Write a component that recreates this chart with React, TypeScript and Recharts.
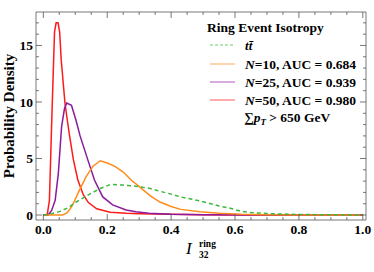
import React from 'react';
import { LineChart, Line, XAxis, YAxis } from 'recharts';

// t tbar background
const ttbarX = [0, 0.03, 0.05, 0.078, 0.1, 0.13, 0.155, 0.178, 0.21, 0.25, 0.29, 0.334, 0.365, 0.4, 0.43, 0.49, 0.55, 0.585, 0.616, 0.65, 0.71, 0.8, 0.9, 1.0];
const ttbarY = [0, 0.15, 0.3, 0.65, 1.1, 1.6, 2.0, 2.35, 2.7, 2.65, 2.55, 2.35, 2.1, 1.85, 1.6, 1.25, 0.8, 0.6, 0.35, 0.22, 0.12, 0.05, 0.02, 0];
// N = 10
const n10X = [0, 0.06, 0.075, 0.09, 0.113, 0.134, 0.155, 0.178, 0.2, 0.224, 0.25, 0.275, 0.305, 0.335, 0.365, 0.4, 0.43, 0.49, 0.55, 0.62, 0.7, 0.8, 1.0];
const n10Y = [0, 0, 0.2, 0.8, 2.2, 3.4, 4.3, 4.8, 4.6, 4.3, 3.8, 3.1, 2.4, 1.7, 1.15, 0.75, 0.5, 0.28, 0.15, 0.06, 0.02, 0.01, 0];
// N = 25
const n25X = [0, 0.015, 0.026, 0.037, 0.047, 0.057, 0.066, 0.073, 0.088, 0.102, 0.115, 0.139, 0.16, 0.186, 0.217, 0.259, 0.29, 0.33, 0.4, 0.5, 0.7, 1.0];
const n25Y = [0, 0, 0.4, 1.3, 3.7, 7.8, 9.4, 9.9, 9.7, 8.4, 7.0, 4.9, 3.1, 1.6, 0.9, 0.44, 0.3, 0.15, 0.06, 0.02, 0, 0];
// N = 50
const n50X = [0, 0.012, 0.019, 0.027, 0.035, 0.04, 0.046, 0.051, 0.056, 0.068, 0.081, 0.094, 0.108, 0.125, 0.141, 0.167, 0.209, 0.26, 0.3, 0.4, 0.5, 0.7, 1.0];
const n50Y = [0, 0, 1.3, 9.0, 16.2, 17.0, 17.0, 16.2, 13.7, 9.8, 7.2, 4.9, 3.1, 1.8, 1.1, 0.55, 0.25, 0.15, 0.12, 0.06, 0.03, 0.01, 0];

const xTicks = Array.from({ length: 21 }, (_, i) => +(i * 0.05).toFixed(2));
const yTicks = Array.from({ length: 18 }, (_, i) => i);
const xMajor = [0, 0.2, 0.4, 0.6, 0.8, 1.0];
const yMajor = [0, 5, 10, 15];

const legendTitle = 'Ring Event Isotropy';
const aucLabels = ['0.684', '0.939', '0.980'];
const nLabels = ['10', '25', '50'];

const toPts = (xs: number[], ys: number[]) => xs.map((x, i) => ({ x, y: ys[i] }));

const C_TT = '#3cb83c';
const C_10 = '#ff8c1a';
const C_25 = '#8b1a9e';
const C_50 = '#ff1a1a';
const FRAME = '#555';
const FONT = '"Liberation Serif", "Times New Roman", serif';

const isMaj = (v: number, list: number[]) => list.some((m) => Math.abs(m - v) < 1e-6);

const BottomTick = (p: any) => {
  const v = p.payload.value;
  const maj = isMaj(v, xMajor);
  return (
    <g>
      <line x1={p.x} x2={p.x} y1={p.y} y2={p.y - (maj ? 6 : 3)} stroke={FRAME} strokeWidth={0.8} />
      {maj && (
        <text x={p.x} y={p.y + 14} textAnchor="middle" fontFamily={FONT} fontWeight="bold" fontSize={13.5} fill="#000">
          {v.toFixed(1)}
        </text>
      )}
    </g>
  );
};
const TopTick = (p: any) => {
  const maj = isMaj(p.payload.value, xMajor);
  return <line x1={p.x} x2={p.x} y1={p.y} y2={p.y + (maj ? 6 : 3)} stroke={FRAME} strokeWidth={0.8} />;
};
const LeftTick = (p: any) => {
  const v = p.payload.value;
  const maj = isMaj(v, yMajor);
  return (
    <g>
      <line x1={p.x} x2={p.x + (maj ? 6 : 3)} y1={p.y} y2={p.y} stroke={FRAME} strokeWidth={0.8} />
      {maj && (
        <text x={p.x - 3} y={p.y} dy="0.35em" textAnchor="end" fontFamily={FONT} fontWeight="bold" fontSize={13.5} fill="#000">
          {v}
        </text>
      )}
    </g>
  );
};
const RightTick = (p: any) => {
  const maj = isMaj(p.payload.value, yMajor);
  return <line x1={p.x} x2={p.x - (maj ? 6 : 3)} y1={p.y} y2={p.y} stroke={FRAME} strokeWidth={0.8} />;
};

const XDOM: [number, number] = [-0.023, 1.01];
const YDOM: [number, number] = [-0.44, 17.96];

export default function App() {
  const rows = [
    { color: C_10, n: nLabels[0], auc: aucLabels[0], y: 64 },
    { color: C_25, n: nLabels[1], auc: aucLabels[1], y: 82 },
    { color: C_50, n: nLabels[2], auc: aucLabels[2], y: 100 },
  ];
  return (
    <div style={{ position: 'absolute', left: 0, top: 0, width: 374, height: 272, background: '#fff' }}>
      <LineChart width={374} height={272} margin={{ top: 11, right: 7, bottom: 51, left: 35 }}>
        <XAxis
          xAxisId="b"
          type="number"
          dataKey="x"
          domain={XDOM}
          allowDataOverflow
          ticks={xTicks}
          interval={0}
          height={1}
          tickSize={0}
          tickMargin={0}
          tick={<BottomTick />}
          axisLine={{ stroke: FRAME, strokeWidth: 0.8 }}
          tickLine={false}
        />
        <XAxis
          xAxisId="t"
          orientation="top"
          type="number"
          dataKey="x"
          domain={XDOM}
          allowDataOverflow
          ticks={xTicks}
          interval={0}
          height={1}
          tickSize={0}
          tickMargin={0}
          tick={<TopTick />}
          axisLine={{ stroke: FRAME, strokeWidth: 0.8 }}
          tickLine={false}
        />
        <YAxis
          yAxisId="l"
          type="number"
          domain={YDOM}
          allowDataOverflow
          ticks={yTicks}
          interval={0}
          width={1}
          tickSize={0}
          tickMargin={0}
          tick={<LeftTick />}
          axisLine={{ stroke: FRAME, strokeWidth: 0.8 }}
          tickLine={false}
        />
        <YAxis
          yAxisId="r"
          orientation="right"
          type="number"
          domain={YDOM}
          allowDataOverflow
          ticks={yTicks}
          interval={0}
          width={1}
          tickSize={0}
          tickMargin={0}
          tick={<RightTick />}
          axisLine={{ stroke: FRAME, strokeWidth: 0.8 }}
          tickLine={false}
        />
        <Line xAxisId="b" yAxisId="l" data={toPts(n50X, n50Y)} dataKey="y" type="linear" dot={false} stroke={C_50} strokeWidth={1.5} isAnimationActive={false} />
        <Line xAxisId="b" yAxisId="l" data={toPts(n25X, n25Y)} dataKey="y" type="linear" dot={false} stroke={C_25} strokeWidth={1.5} isAnimationActive={false} />
        <Line xAxisId="b" yAxisId="l" data={toPts(n10X, n10Y)} dataKey="y" type="linear" dot={false} stroke={C_10} strokeWidth={1.5} isAnimationActive={false} />
        <Line xAxisId="b" yAxisId="l" data={toPts(ttbarX, ttbarY)} dataKey="y" type="linear" dot={false} stroke={C_TT} strokeWidth={1.5} strokeDasharray="4 3" isAnimationActive={false} />
      </LineChart>
      <svg width={374} height={272} style={{ position: 'absolute', left: 0, top: 0, pointerEvents: 'none' }}>
        <text x={9} y={116} transform="rotate(-90 9 116)" textAnchor="middle" dominantBaseline="central" fontFamily={FONT} fontWeight="bold" fontSize={15} fill="#000">
          Probability Density
        </text>
        <text x={186} y={253.5} fontFamily={FONT} fontStyle="italic" fontSize={17} fill="#000">I</text>
        <text x={199} y={246.5} fontFamily={FONT} fontWeight="bold" fontSize={9.5} fill="#000">ring</text>
        <text x={199} y={257.5} fontFamily={FONT} fontWeight="bold" fontSize={9.5} fill="#000">32</text>

        <text x={207} y={32} fontFamily={FONT} fontWeight="bold" fontSize={13.5} fill="#000">{legendTitle}</text>
        <line x1={210} x2={235} y1={45} y2={45} stroke={C_TT} strokeWidth={1.2} strokeDasharray="3 2" opacity={0.75} />
        <text x={245} y={49.5} fontFamily={FONT} fontWeight="bold" fontStyle="italic" fontSize={13} fill="#000">t{'t\u0304'}</text>
        {rows.map((r) => (
          <g key={r.n}>
            <line x1={210} x2={235} y1={r.y} y2={r.y} stroke={r.color} strokeWidth={1.2} opacity={0.6} />
            <text x={245} y={r.y + 4.5} fontFamily={FONT} fontWeight="bold" fontSize={13.5} fill="#000">
              <tspan fontStyle="italic">N</tspan>={r.n}, AUC = {r.auc}
            </text>
          </g>
        ))}
        <text x={244} y={121.5} fontFamily={FONT} fontWeight="bold" fontSize={13.5} fill="#000">
          ∑<tspan fontStyle="italic">p</tspan><tspan fontStyle="italic" fontSize={9} dy={3}>T</tspan><tspan dy={-3}> &gt; 650 GeV</tspan>
        </text>
      </svg>
    </div>
  );
}
